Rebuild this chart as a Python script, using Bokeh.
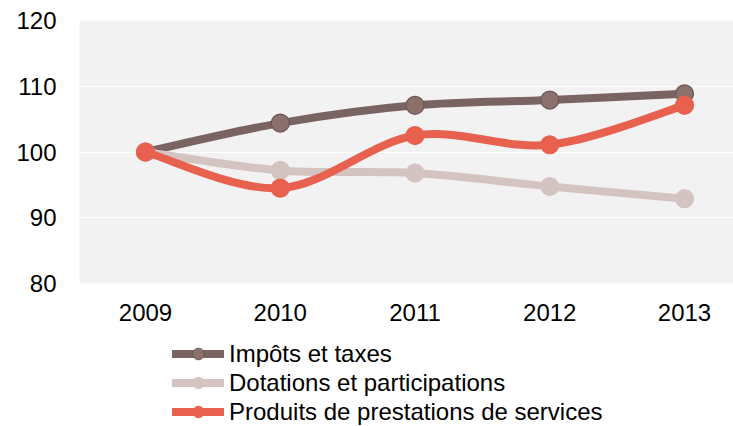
from bokeh.plotting import figure
from bokeh.models import Range1d, FixedTicker, Legend, LegendItem
from bokeh.layouts import column
from bokeh.embed import file_html
from bokeh.resources import INLINE

years = ["2009", "2010", "2011", "2012", "2013"]
impots = [100, 104.4, 107.1, 107.9, 108.85]
dotations = [100, 97.2, 96.8, 94.75, 92.9]
produits = [100, 94.5, 102.5, 101.1, 107.1]

names = ["Impôts et taxes", "Dotations et participations", "Produits de prestations de services"]
series = [impots, dotations, produits]
line_colors = ["#7A6462", "#D4C4C1", "#E8604E"]
fill_colors = ["#8C706C", "#D4C4C1", "#E8604E"]
edge_colors = ["#6A5654", "#D4C4C1", "#E8604E"]

FONT = "Liberation Sans"
H1 = 333

p = figure(width=733, height=H1, output_backend="svg", toolbar_location=None,
           x_range=Range1d(-0.4898, 4.3636), y_range=Range1d(80, 120),
           min_border_left=79, min_border_right=0, min_border_top=20, min_border_bottom=H1 - 283)
p.background_fill_color = "#F2F2F2"
p.border_fill_color = "white"
p.outline_line_color = None

xs = list(range(len(years)))

for vals, lc, fc, ec in zip(series, line_colors, fill_colors, edge_colors):
    n = len(vals)
    x0, y0, x1, y1, cx0, cy0, cx1, cy1 = [], [], [], [], [], [], [], []
    for i in range(n - 1):
        pm = i - 1 if i > 0 else i
        pp = i + 2 if i + 2 < n else i + 1
        x0.append(xs[i]); y0.append(vals[i])
        x1.append(xs[i + 1]); y1.append(vals[i + 1])
        cx0.append(xs[i] + (xs[i + 1] - xs[pm]) / 6.0)
        cy0.append(vals[i] + (vals[i + 1] - vals[pm]) / 6.0)
        cx1.append(xs[i + 1] - (xs[pp] - xs[i]) / 6.0)
        cy1.append(vals[i + 1] - (vals[pp] - vals[i]) / 6.0)
    p.bezier(x0=x0, y0=y0, x1=x1, y1=y1, cx0=cx0, cy0=cy0, cx1=cx1, cy1=cy1,
             line_color=lc, line_width=8, line_cap="round")
    p.scatter(xs, vals, size=18, fill_color=fc, line_color=ec, line_width=1.2)

p.xaxis.ticker = FixedTicker(ticks=xs)
p.xaxis.major_label_overrides = {i: y for i, y in zip(xs, years)}
p.yaxis.ticker = FixedTicker(ticks=[80, 90, 100, 110, 120])

for ax in [p.xaxis[0], p.yaxis[0]]:
    ax.axis_line_color = None
    ax.major_tick_line_color = None
    ax.minor_tick_line_color = None
    ax.major_label_text_font = FONT
    ax.major_label_text_font_size = "24px"
    ax.major_label_text_color = "#000000"
p.yaxis.major_label_standoff = 17
p.xaxis.major_label_standoff = 14

p.xgrid.grid_line_color = None
p.ygrid.grid_line_color = "white"
p.ygrid.grid_line_width = 1

# legend strip below the chart (its series renderers lie outside its visible range)
H2 = 426 - H1
q = figure(width=733, height=H2, output_backend="svg", toolbar_location=None,
           x_range=Range1d(-30, -20), y_range=Range1d(-30, -20),
           x_axis_location=None, y_axis_location=None,
           min_border_left=79, min_border_right=0, min_border_top=0, min_border_bottom=0)
q.grid.visible = False
q.outline_line_color = None
q.background_fill_color = "white"
q.border_fill_color = "white"

items = []
for vals, lc, fc, ec, name in zip(series, line_colors, fill_colors, edge_colors, names):
    ln = q.line(x=xs, y=vals, line_color=lc, line_width=8, line_cap="round")
    mk = q.scatter(x=xs, y=vals, size=14, fill_color=fc, line_color=ec, line_width=1)
    items.append(LegendItem(label=name, renderers=[ln, mk]))

legend = Legend(items=items, location=(93, 0), orientation="vertical",
                label_text_font=FONT, label_text_font_size="24px", label_text_color="#000000",
                glyph_width=52, glyph_height=29, label_standoff=5, spacing=0,
                padding=0, margin=0, border_line_color=None, background_fill_alpha=0)
q.add_layout(legend, "center")

open("out.html", "w").write(file_html(column(p, q, spacing=0), INLINE))
